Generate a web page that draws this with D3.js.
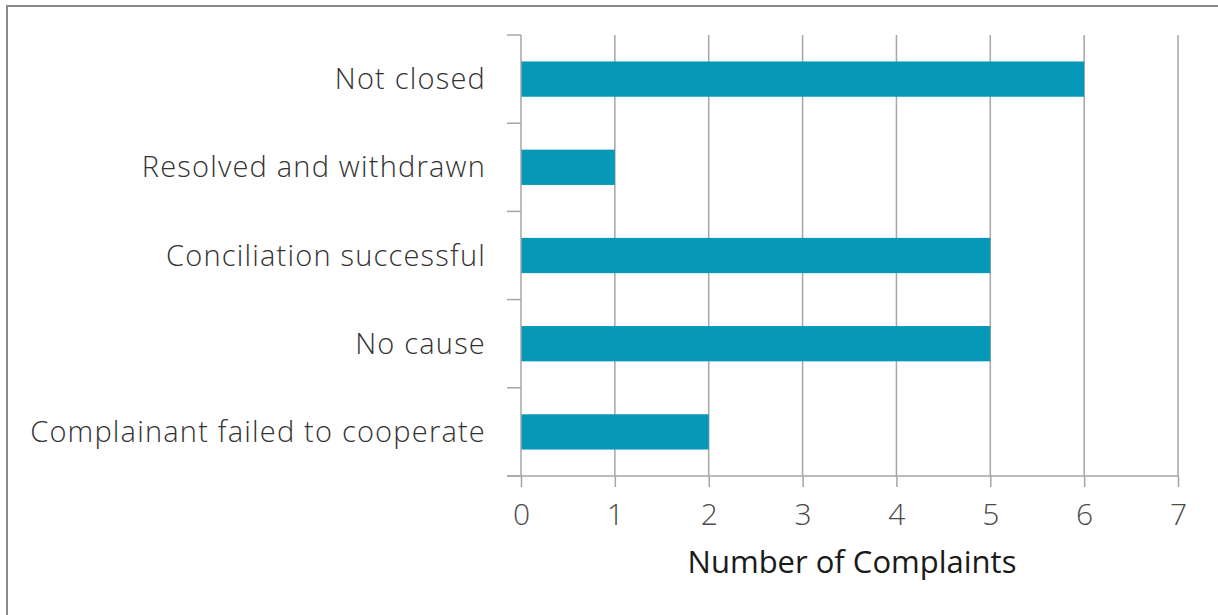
<!DOCTYPE html>
<html>
<head>
<meta charset="utf-8">
<script src="https://cdn.jsdelivr.net/npm/d3@7"></script>
<style>
  body { margin: 0; background: #fff; }
  svg { display: block; }
  .lbl { font-family: "Open Sans", sans-serif; font-weight: 300; }
</style>
</head>
<body>
<div id="chart"></div>
<script>
// data
var categories = ["Not closed", "Resolved and withdrawn", "Conciliation successful", "No cause", "Complainant failed to cooperate"];
var counts = [6, 1, 5, 5, 2];
var xTicks = [0, 1, 2, 3, 4, 5, 6, 7];
var axisTitle = "Number of Complaints";

var width = 1218, height = 615;
var plotLeft = 521, plotRight = 1178, plotTop = 35, plotBottom = 476;

var svg = d3.select("#chart").append("svg").attr("width", width).attr("height", height);

// frame around the chart area
svg.append("path")
  .attr("d", "M7,615 L7,6 L1218,6")
  .attr("fill", "none").attr("stroke", "#8a8a8a").attr("stroke-width", 2);

var x = d3.scaleLinear().domain([0, 7]).range([plotLeft, plotRight]);
var y = d3.scaleBand().domain(categories).range([plotTop, plotBottom]).paddingInner(0.6).paddingOuter(0.3);

// grid lines
svg.append("g").selectAll("line").data(xTicks.slice(1)).enter().append("line")
  .attr("x1", function(d) { return x(d); }).attr("x2", function(d) { return x(d); })
  .attr("y1", plotTop).attr("y2", plotBottom)
  .attr("stroke", "#a6a6a6").attr("stroke-width", 1.5);

// bars
svg.append("g").selectAll("rect").data(counts).enter().append("rect")
  .attr("x", x(0))
  .attr("y", function(d, i) { return y(categories[i]); })
  .attr("width", function(d) { return x(d) - x(0); })
  .attr("height", y.bandwidth())
  .attr("fill", "#0598b8");

// x axis
var xAxis = svg.append("g").attr("transform", "translate(0," + plotBottom + ")")
  .call(d3.axisBottom(x).tickValues(xTicks).tickFormat(d3.format("d")).tickSize(11).tickPadding(17));
xAxis.select(".domain").attr("stroke", "#a6a6a6").attr("stroke-width", 1.5).attr("d", "M" + (plotLeft - 14) + ",0H" + plotRight);
xAxis.selectAll(".tick line").attr("stroke", "#a6a6a6").attr("stroke-width", 1.5);
xAxis.selectAll(".tick text").attr("class", "lbl").attr("font-size", 30).attr("fill", "#4a4a4a");

// y axis: ticks between categories
var boundaries = d3.range(categories.length + 1).map(function(i) { return plotTop + i * (plotBottom - plotTop) / categories.length; });
var yg = svg.append("g");
yg.append("line").attr("x1", plotLeft).attr("x2", plotLeft).attr("y1", plotTop).attr("y2", plotBottom)
  .attr("stroke", "#a6a6a6").attr("stroke-width", 1.5);
yg.selectAll("line.tk").data(boundaries).enter().append("line").attr("class", "tk")
  .attr("x1", plotLeft - 14).attr("x2", plotLeft)
  .attr("y1", function(d) { return d; }).attr("y2", function(d) { return d; })
  .attr("stroke", "#a6a6a6").attr("stroke-width", 1.5);

yg.selectAll("text").data(categories).enter().append("text")
  .attr("class", "lbl")
  .attr("x", 486)
  .attr("y", function(d) { return y(d) + y.bandwidth() / 2; })
  .attr("dy", "0.35em")
  .attr("text-anchor", "end")
  .attr("font-size", 29)
  .attr("letter-spacing", 1.2)
  .attr("fill", "#333")
  .text(function(d) { return d; });

svg.append("text")
  .attr("x", 852).attr("y", 573)
  .attr("text-anchor", "middle")
  .attr("font-family", "Open Sans, sans-serif")
  .attr("font-size", 31)
  .attr("letter-spacing", 0)
  .attr("fill", "#1a1a1a")
  .text(axisTitle);
</script>
</body>
</html>
